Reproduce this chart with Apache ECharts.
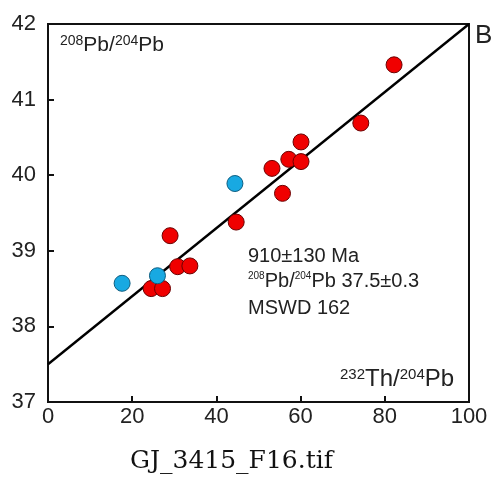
<!DOCTYPE html>
<html><head><meta charset="utf-8">
<script src="https://cdn.jsdelivr.net/npm/echarts@6/dist/echarts.min.js"></script>
<style>html,body{margin:0;padding:0;background:#fff}#c{width:496px;height:486px}</style>
</head><body><div id="c"></div>
<script>
// Red samples: [232Th/204Pb, 208Pb/204Pb]
const redX = [82.2, 74.3, 60.1, 57.2, 60.1, 53.2, 55.7, 44.7, 29.0, 30.8, 33.7, 24.5, 27.2];
const redY = [41.46, 40.69, 40.44, 40.21, 40.18, 40.09, 39.76, 39.38, 39.20, 38.79, 38.80, 38.50, 38.50];
// Blue samples
const blueX = [44.4, 26.0, 17.6];
const blueY = [39.89, 38.67, 38.57];
// Isochron line endpoints
const lineX = [0, 100];
const lineY = [37.5, 42];
const xTicks = [0, 20, 40, 60, 80, 100];
const yTicks = [37, 38, 39, 40, 41, 42];

const chart = echarts.init(document.getElementById('c'));
const font = 'Liberation Sans, Arial, sans-serif';
const zip = (a, b) => a.map((v, i) => [v, b[i]]);
const C = '#222';

chart.setOption({
  animation: false,
  grid: {left: 48, top: 24, width: 421, height: 378, show: true, borderColor: '#111', borderWidth: 2, backgroundColor: 'transparent'},
  xAxis: {
    type: 'value', min: xTicks[0], max: xTicks[xTicks.length - 1], interval: 20,
    splitLine: {show: false},
    axisLine: {lineStyle: {color: '#111', width: 2}},
    axisTick: {inside: true, length: 6, lineStyle: {color: '#111', width: 2}},
    axisLabel: {color: C, fontSize: 22, fontFamily: font, margin: 4}
  },
  yAxis: {
    type: 'value', min: yTicks[0], max: yTicks[yTicks.length - 1], interval: 1,
    splitLine: {show: false},
    axisLine: {lineStyle: {color: '#111', width: 2}},
    axisTick: {inside: true, length: 6, lineStyle: {color: '#111', width: 2}},
    axisLabel: {color: C, fontSize: 22, fontFamily: font, margin: 12}
  },
  series: [
    {type: 'line', data: zip(lineX, lineY), symbol: 'none', lineStyle: {color: '#000', width: 2.4}, z: 2},
    {type: 'scatter', data: zip(redX, redY), symbolSize: 16, itemStyle: {color: '#f00000', borderColor: '#6a0000', borderWidth: 1, opacity: 1}, z: 3},
    {type: 'scatter', data: zip(blueX, blueY), symbolSize: 16, itemStyle: {color: '#18a9e2', borderColor: '#0d5d80', borderWidth: 1, opacity: 1}, z: 4}
  ],
  graphic: [
    {type: 'text', left: 60, top: 34, style: {rich: {s: {fontSize: 14, fontFamily: font, fill: C, padding: [0,0,9,0]}, n: {fontSize: 21, fontFamily: font, fill: C}}, text: '{s|208}{n|Pb/}{s|204}{n|Pb}'}},
    {type: 'text', left: 475, top: 23, style: {text: 'B', fontSize: 26, fontFamily: font, fill: C}},
    {type: 'text', left: 248, top: 246, style: {text: '910±130 Ma', fontSize: 20, fontFamily: font, fill: C}},
    {type: 'text', left: 248, top: 271, style: {rich: {s: {fontSize: 10, fontFamily: font, fill: C, padding: [0,0,9,0]}, n: {fontSize: 20, fontFamily: font, fill: C}}, text: '{s|208}{n|Pb/}{s|204}{n|Pb 37.5±0.3}'}},
    {type: 'text', left: 248, top: 298, style: {text: 'MSWD 162', fontSize: 20, fontFamily: font, fill: C}},
    {type: 'text', left: 340, top: 367, style: {rich: {s: {fontSize: 15, fontFamily: font, fill: C, padding: [0,0,10,0]}, n: {fontSize: 24, fontFamily: font, fill: C}}, text: '{s|232}{n|Th/}{s|204}{n|Pb}'}},
    {type: 'text', left: 130, top: 449, style: {text: 'GJ_3415_F16.tif', fontSize: 25, fontFamily: 'DejaVu Serif, Liberation Serif, serif', fill: '#111'}}
  ]
});
</script></body></html>
